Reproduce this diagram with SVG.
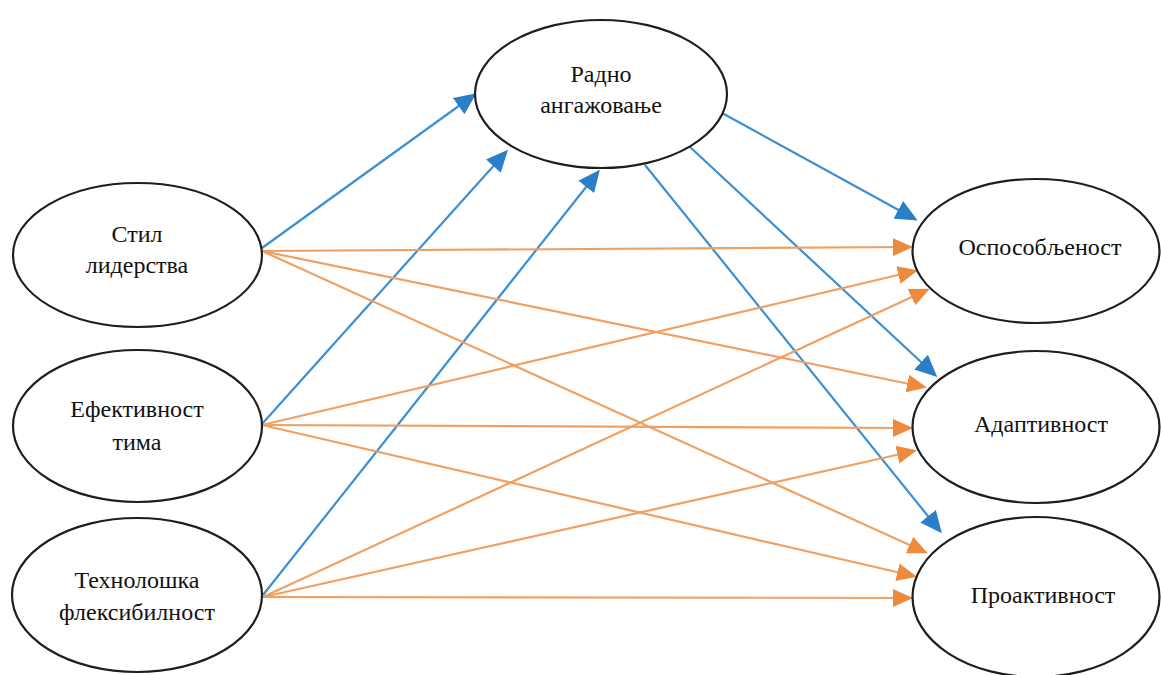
<svg xmlns="http://www.w3.org/2000/svg" width="1161" height="675" viewBox="0 0 1161 675">
<defs>
<style>
.node ellipse{fill:#fff;stroke:#1e1e1e;stroke-width:2.2}
.node text{font-family:"Liberation Serif","DejaVu Serif",serif;font-size:24px;fill:#111;text-anchor:middle}
.blue{stroke:#3B8FD2;stroke-width:2.2;fill:none;marker-end:url(#ab)}
.orange{stroke:#F0A062;stroke-width:2.2;fill:none;marker-end:url(#ao)}
</style>
<marker id="ab" markerUnits="userSpaceOnUse" markerWidth="22" markerHeight="20" viewBox="0 0 22 20" refX="19" refY="10" orient="auto">
<path d="M0,0 L22,10 L0,20 z" fill="#2A7FC9"/>
</marker>
<marker id="ao" markerUnits="userSpaceOnUse" markerWidth="20" markerHeight="18" viewBox="0 0 20 18" refX="17" refY="9" orient="auto">
<path d="M0,0 L20,9 L0,18 z" fill="#EC8A3D"/>
</marker>
</defs>
<rect width="1161" height="675" fill="#fff"/>
<g id="connectors">
<line class="blue" x1="262" y1="248" x2="474" y2="95"/>
<line class="blue" x1="262" y1="424" x2="506" y2="152"/>
<line class="blue" x1="263" y1="595" x2="598" y2="172"/>
<line class="blue" x1="722" y1="113" x2="915" y2="219"/>
<line class="blue" x1="690" y1="147" x2="935" y2="375"/>
<line class="blue" x1="645" y1="165" x2="940" y2="531"/>
<line class="orange" x1="262" y1="251" x2="910" y2="247"/>
<line class="orange" x1="262" y1="251" x2="924" y2="387"/>
<line class="orange" x1="262" y1="251" x2="925" y2="552"/>
<line class="orange" x1="262" y1="425" x2="915" y2="271"/>
<line class="orange" x1="262" y1="425" x2="910" y2="428"/>
<line class="orange" x1="262" y1="425" x2="914" y2="576"/>
<line class="orange" x1="263" y1="597" x2="927" y2="290"/>
<line class="orange" x1="263" y1="597" x2="914" y2="451"/>
<line class="orange" x1="263" y1="597" x2="910" y2="598"/>
</g>
<g id="n-radno" class="node">
<ellipse cx="601" cy="94" rx="126" ry="74"/>
<text x="601" y="82">Радно</text>
<text x="601" y="113">ангажовање</text>
</g>
<g id="n-stil" class="node">
<ellipse cx="137.5" cy="255" rx="124.5" ry="72"/>
<text x="137" y="242">Стил</text>
<text x="137" y="273">лидерства</text>
</g>
<g id="n-efektivnost" class="node">
<ellipse cx="137.5" cy="426" rx="124.5" ry="76"/>
<text x="137" y="417">Ефективност</text>
<text x="137" y="450">тима</text>
</g>
<g id="n-tehnoloska" class="node">
<ellipse cx="137" cy="595" rx="125" ry="77"/>
<text x="137" y="588">Технолошка</text>
<text x="137" y="620">флексибилност</text>
</g>
<g id="n-osposobljenost" class="node">
<ellipse cx="1036" cy="251" rx="123.5" ry="72"/>
<text x="1040" y="255">Оспособљеност</text>
</g>
<g id="n-adaptivnost" class="node">
<ellipse cx="1036" cy="427" rx="123.5" ry="76"/>
<text x="1041" y="432">Адаптивност</text>
</g>
<g id="n-proaktivnost" class="node">
<ellipse cx="1036" cy="597" rx="123.5" ry="80"/>
<text x="1043" y="603">Проактивност</text>
</g>
</svg>
